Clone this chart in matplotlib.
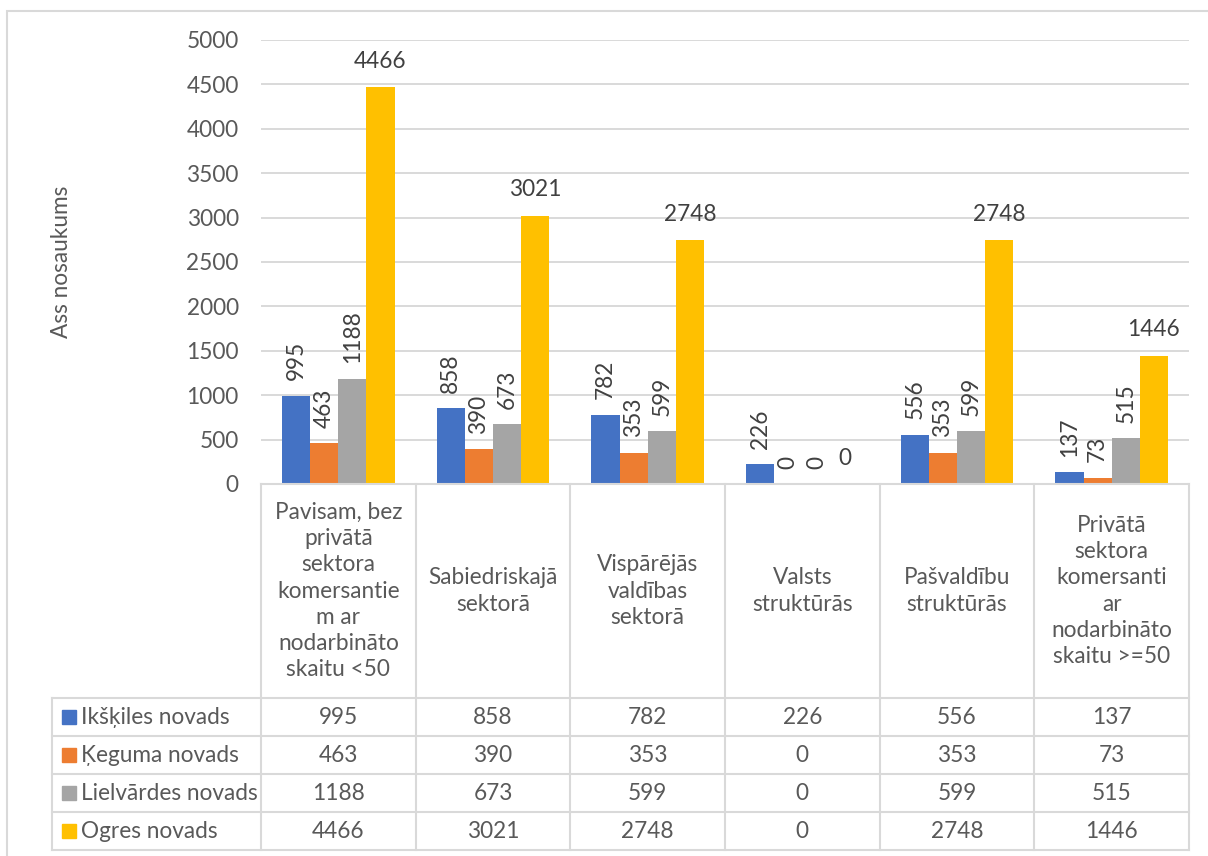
import numpy as np
import matplotlib
matplotlib.use('Agg')
import matplotlib.pyplot as plt
from matplotlib.patches import Rectangle

plt.rcParams['font.family'] = ['Lato', 'DejaVu Sans']

categories = ['Pavisam, bez\nprivātā\nsektora\nkomersantie\nm ar\nnodarbināto\nskaitu <50',
              'Sabiedriskajā\nsektorā',
              'Vispārējās\nvaldības\nsektorā',
              'Valsts\nstruktūrās',
              'Pašvaldību\nstruktūrās',
              'Privātā\nsektora\nkomersanti\nar\nnodarbināto\nskaitu >=50']
series_names = ['Ikšķiles novads', 'Ķeguma novads', 'Lielvārdes novads', 'Ogres novads']
ikskile = [995, 858, 782, 226, 556, 137]
keguma = [463, 390, 353, 0, 353, 73]
lielvarde = [1188, 673, 599, 0, 599, 515]
ogre = [4466, 3021, 2748, 0, 2748, 1446]
series = [ikskile, keguma, lielvarde, ogre]
colors = ['#4472C4', '#ED7D31', '#A5A5A5', '#FFC000']
y_title = 'Ass nosaukums'

TXT = '#595959'
GRID = '#D9D9D9'
FS = 16.3

W, H = 1208, 856
fig = plt.figure(figsize=(W / 100, H / 100), dpi=100)

def px_axes(x0, y0, x1, y1):
    # box given in pixels, y measured from the top
    return fig.add_axes([x0 / W, 1 - y1 / H, (x1 - x0) / W, (y1 - y0) / H])

# outer chart frame (runs off the right and bottom edge)
fig.add_artist(Rectangle((7 / W, -0.1), 1.2, 1.1 - 11 / H, transform=fig.transFigure,
                         fill=False, ec=GRID, lw=1.5))

# --- bar chart ---
ax = px_axes(261, 40, 1189, 484)
n = len(categories)
ax.set_xlim(0, n)
ax.set_ylim(0, 5000)
ax.set_yticks(np.arange(0, 5001, 500))
ax.set_xticks([])
ax.tick_params(axis='y', length=0, pad=16, labelsize=FS, labelcolor=TXT)
for s in ax.spines.values():
    s.set_visible(False)
ax.grid(axis='y', color=GRID, lw=1.4)
ax.set_axisbelow(True)

w = 1 / 5.5
xc = np.arange(n) + 0.5
for j, (vals, c) in enumerate(zip(series, colors)):
    xs = xc + (j - 1.5) * w
    ax.bar(xs, vals, width=w, color=c, edgecolor='none', zorder=2)
    for x, v in zip(xs, vals):
        ax.annotate(str(v), (x, v), xytext=(0, 11), textcoords='offset points',
                    ha='center', va='bottom', rotation=90 if j < 3 else 0,
                    fontsize=FS, color='#404040')

fig.text(62 / W, 1 - 262 / H, y_title, rotation=90, ha='center', va='center',
         fontsize=FS, color=TXT)

# --- data table below ---
tleft, tright, ttop, tbot = 52, 1189, 484, 851
unit = (tright - 261) / n
L = (261 - tleft) / unit
tax = px_axes(tleft, ttop, tright, tbot)
tax.set_xlim(-L, n)
tax.set_ylim(tbot - ttop, 0)
tax.axis('off')

cat_h = 214
row_h = 38
lk = dict(color=GRID, lw=1.5, clip_on=False)
tax.plot([0, n], [0, 0], **lk)
for i in range(n + 1):
    tax.plot([i, i], [0, cat_h + 4 * row_h], **lk)
tax.plot([-L, -L], [cat_h, cat_h + 4 * row_h], **lk)
for k in range(5):
    y = cat_h + k * row_h
    tax.plot([-L, n], [y, y], **lk)

for i, cat in enumerate(categories):
    tax.text(i + 0.5, cat_h / 2, cat, ha='center', va='center', fontsize=FS,
             color=TXT, linespacing=1.3)

for k, (name, vals, c) in enumerate(zip(series_names, series, colors)):
    yc = cat_h + (k + 0.5) * row_h
    tax.add_patch(Rectangle((-L + 10 / unit, yc - 7), 14 / unit, 14, color=c, clip_on=False))
    tax.text(-L + 29 / unit, yc, name, ha='left', va='center', fontsize=FS, color=TXT)
    for i, v in enumerate(vals):
        tax.text(i + 0.5, yc, str(v), ha='center', va='center', fontsize=FS, color=TXT)

fig.savefig('out.png', dpi=100, facecolor='white')
